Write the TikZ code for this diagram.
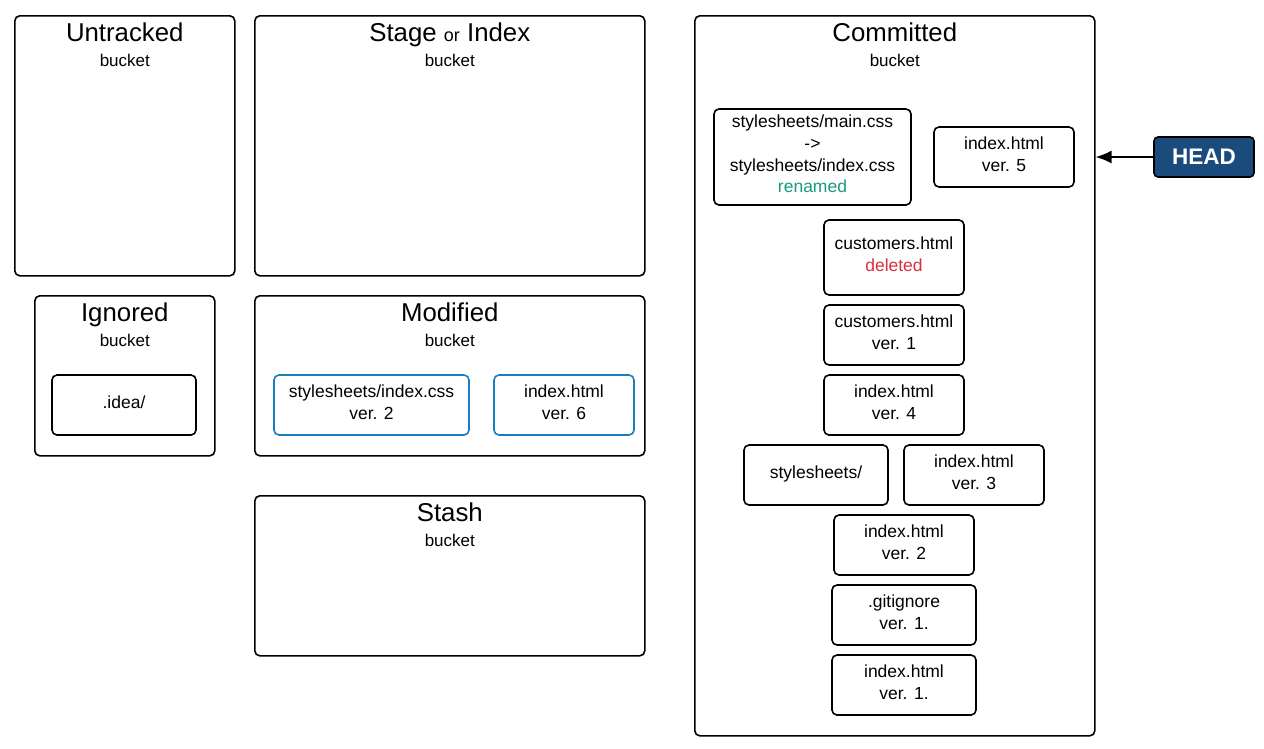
\documentclass[tikz,border=0pt]{standalone}
\usepackage{fontspec}
\setmainfont{Liberation Sans}
\usetikzlibrary{arrows.meta, positioning}
\definecolor{headblue}{HTML}{1B4A7D}
\definecolor{modblue}{HTML}{1C7CC0}
\definecolor{rengreen}{HTML}{1A9A7C}
\definecolor{delred}{HTML}{D8303C}
\tikzstyle{bucket} = [rectangle, rounded corners=5pt, draw=black, line width=1.6pt, anchor=north west, inner sep=0pt]
\tikzstyle{title} = [font=\fontsize{25.8}{28}\selectfont, inner sep=0pt, anchor=base]
\tikzstyle{sub} = [font=\fontsize{17}{20}\selectfont, inner sep=0pt]
\tikzstyle{file} = [rectangle, rounded corners=5pt, draw=black, line width=1.6pt, align=center, inner sep=0pt, text depth=6pt, font=\fontsize{17.5}{21.7}\selectfont]
\tikzstyle{modfile} = [file, draw=modblue]
\tikzstyle{headbox} = [rectangle, rounded corners=4pt, draw=black, line width=1.6pt, fill=headblue, text=white, inner sep=0pt, minimum width=100pt, minimum height=40pt, font=\fontsize{22.5}{24}\selectfont\bfseries]
\tikzstyle{arrow} = [-{Latex[length=16pt,width=13pt]}, line width=1.6pt]

\begin{document}
\begin{tikzpicture}[x=1pt, y=-1pt]
  \useasboundingbox (0,0) rectangle (1264,748);
  % buckets
  \node[bucket, minimum width=220pt, minimum height=260pt] (untracked) at (14,15) {};
  \node[bucket, minimum width=390pt, minimum height=260pt] (stage) at (254,15) {};
  \node[bucket, minimum width=180pt, minimum height=160pt] (ignored) at (34,295) {};
  \node[bucket, minimum width=390pt, minimum height=160pt] (modified) at (254,295) {};
  \node[bucket, minimum width=390pt, minimum height=160pt] (stash) at (254,495) {};
  \node[bucket, minimum width=400pt, minimum height=720pt] (committed) at (694,15) {};

  \node[title] (untrackedT) at ([yshift=-26pt]untracked.north) {Untracked};
  \node[sub] (untrackedS) at ([yshift=-45pt]untracked.north) {bucket};
  \node[title] (stageT) at ([yshift=-26pt]stage.north) {Stage {\fontsize{18}{20}\selectfont or} Index};
  \node[sub] (stageS) at ([yshift=-45pt]stage.north) {bucket};
  \node[title] (ignoredT) at ([yshift=-26pt]ignored.north) {Ignored};
  \node[sub] (ignoredS) at ([yshift=-45pt]ignored.north) {bucket};
  \node[title] (modifiedT) at ([yshift=-26pt]modified.north) {Modified};
  \node[sub] (modifiedS) at ([yshift=-45pt]modified.north) {bucket};
  \node[title] (stashT) at ([yshift=-26pt]stash.north) {Stash};
  \node[sub] (stashS) at ([yshift=-45pt]stash.north) {bucket};
  \node[title] (committedT) at ([yshift=-26pt]committed.north) {Committed};
  \node[sub] (committedS) at ([yshift=-45pt]committed.north) {bucket};

  % ignored and modified files
  \node[file, minimum width=144pt, minimum height=60pt] (idea) at (124,405) {.idea/};
  \node[modfile, minimum width=195pt, minimum height=60pt] (modcss) at (371.5,405) {stylesheets/index.css\\ver. 2};
  \node[modfile, minimum width=140pt, minimum height=60pt] (modidx) at (564,405) {index.html\\ver. 6};

  % committed files
  \node[file, minimum width=197pt, minimum height=96pt] (renamed) at (812.5,157) {stylesheets/main.css\\->\\stylesheets/index.css\\\textcolor{rengreen}{renamed}};
  \node[file, minimum width=140pt, minimum height=60pt] (idx5) at (1004,157) {index.html\\ver. 5};
  \node[file, minimum width=140pt, minimum height=75pt] (custdel) at (894,257.5) {customers.html\\\textcolor{delred}{deleted}};
  \node[file, minimum width=140pt, minimum height=60pt] (cust1) at (894,335) {customers.html\\ver. 1};
  \node[file, minimum width=140pt, minimum height=60pt] (idx4) at (894,405) {index.html\\ver. 4};
  \node[file, minimum width=144pt, minimum height=60pt] (styles) at (816,475) {stylesheets/};
  \node[file, minimum width=140pt, minimum height=60pt] (idx3) at (974,475) {index.html\\ver. 3};
  \node[file, minimum width=140pt, minimum height=60pt] (idx2) at (904,545) {index.html\\ver. 2};
  \node[file, minimum width=144pt, minimum height=60pt] (gitign) at (904,615) {.gitignore\\ver. 1.};
  \node[file, minimum width=144pt, minimum height=60pt] (idx1) at (904,685) {index.html\\ver. 1.};

  \node[headbox] (head) at (1204,157) {HEAD};
  \draw[arrow] (head) -- (committed.east |- head);
\end{tikzpicture}
\end{document}
